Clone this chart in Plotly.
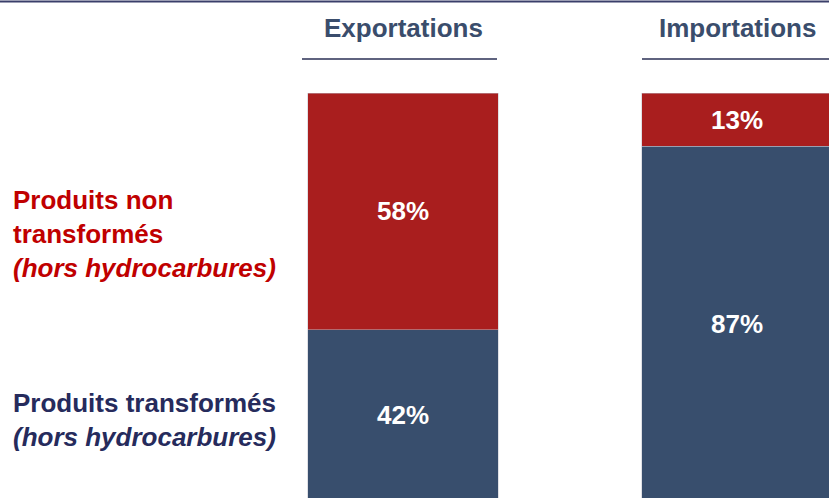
import plotly.graph_objects as go

# Répartition des échanges (hors hydrocarbures), en %
categories = ["Exportations", "Importations"]
transformes = [42, 87]
non_transformes = [58, 13]

label_non = "Produits non<br>transformés<br><i>(hors hydrocarbures)</i>"
label_trans = "Produits transformés<br><i>(hors hydrocarbures)</i>"

W, H = 829, 498
FONT = "Liberation Sans, Arial, Helvetica, sans-serif"
RED = "#A91E1E"
BLUE = "#384E6D"
HEAD = "#3A4D6C"
RED_TXT = "#C00000"
NAVY_TXT = "#262B5C"

xpos = list(range(len(categories)))
bar_w = 0.569
px_per_unit = 334
# underline overhang to the left of each bar, in pixels
rule_overhang = [6, 0]

fig = go.Figure()
for vals, color in ((transformes, BLUE), (non_transformes, RED)):
    fig.add_trace(go.Bar(
        x=xpos, y=vals, width=bar_w,
        marker=dict(color=color, line=dict(color="rgba(190,190,200,0.8)", width=0.6)),
        text=[f"{v}%" for v in vals],
        textposition="inside", insidetextanchor="middle", textangle=0,
        constraintext="none",
        textfont=dict(family=FONT, size=26, color="white", weight="bold"),
        hoverinfo="skip", showlegend=False,
    ))

# column headers with their underlines
for i, cat in enumerate(categories):
    fig.add_annotation(
        x=i, xref="x", y=1 - 28 / H, yref="paper", text=cat, showarrow=False,
        xanchor="center", yanchor="middle",
        font=dict(family=FONT, size=26, color=HEAD, weight="bold"),
    )
    fig.add_shape(
        type="line", xref="x", yref="paper",
        x0=i - bar_w / 2 - rule_overhang[i] / px_per_unit, x1=i + bar_w / 2 - 0.003,
        y0=1 - 59 / H, y1=1 - 59 / H,
        line=dict(color="#2A2F55", width=1.5),
    )

# top rule
fig.add_shape(type="line", xref="paper", yref="paper", x0=0, x1=1,
              y0=1 - 1.5 / H, y1=1 - 1.5 / H,
              line=dict(color="#3A3F6A", width=2))

# row labels on the left
fig.add_annotation(
    x=11 / W, xref="paper", y=1 - 233.5 / H, yref="paper", text=label_non,
    showarrow=False, xanchor="left", yanchor="middle", align="left",
    font=dict(family=FONT, size=26, color=RED_TXT, weight="bold"),
)
fig.add_annotation(
    x=11 / W, xref="paper", y=1 - 419.5 / H, yref="paper", text=label_trans,
    showarrow=False, xanchor="left", yanchor="middle", align="left",
    font=dict(family=FONT, size=26, color=NAVY_TXT, weight="bold"),
)

x_left = -403 / px_per_unit
x_right = (W - 403) / px_per_unit

# 100 % sits 93 px below the top; the bars run slightly past the bottom edge
px_per_pct = 4.08
y_top = 100 + 93 / px_per_pct
y_bottom = y_top - H / px_per_pct

fig.update_layout(
    width=W, height=H,
    margin=dict(l=0, r=0, t=0, b=0),
    barmode="stack",
    paper_bgcolor="white", plot_bgcolor="white",
    xaxis=dict(range=[x_left, x_right], visible=False),
    yaxis=dict(range=[y_bottom, y_top], visible=False),
)

fig.write_html("out.html")
